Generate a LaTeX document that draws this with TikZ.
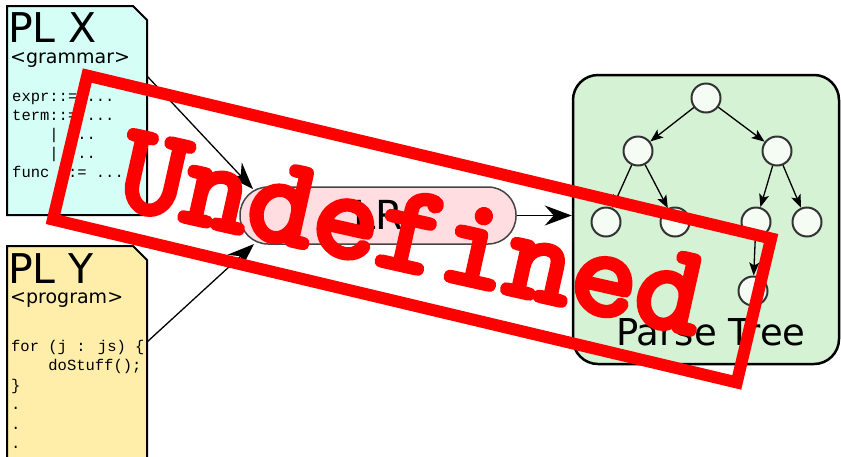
\documentclass[tikz,border=0pt]{standalone}
\usepackage{fontspec}
\setmainfont{DejaVu Sans}
\newfontfamily\codefont{Liberation Mono}
\newfontfamily\stampfont[FakeBold=4.5]{lmmono10-regular.otf}
\usetikzlibrary{arrows.meta}
\definecolor{docCyan}{RGB}{213,255,246}
\definecolor{docYellow}{RGB}{255,238,170}
\definecolor{lrPink}{RGB}{255,221,225}
\definecolor{lrGray}{RGB}{68,68,68}
\definecolor{treeGreen}{RGB}{213,242,213}
\definecolor{leafFill}{RGB}{244,252,244}
\definecolor{leafLine}{RGB}{51,51,51}
\definecolor{stampRed}{RGB}{255,0,0}
\begin{document}
\begin{tikzpicture}[x=1pt,y=-1pt,
  docshape/.style={draw=black,line width=2pt,line join=miter},
  titletext/.style={anchor=base west,inner sep=0pt,font=\fontsize{41}{41}\selectfont},
  subtext/.style={anchor=base west,inner sep=0pt,font=\fontsize{19}{19}\selectfont},
  codetext/.style={anchor=base west,inner sep=0pt,font=\codefont\fontsize{15.5}{15.5}\selectfont},
  bigarrow/.style={draw=black,line width=1.3pt,-{Stealth[length=27pt,width=20pt,inset=9pt]}},
  treearrow/.style={draw=black,line width=1.3pt,-{Stealth[length=13pt,width=10pt,inset=3pt]}},
  leaf/.style={circle,draw=leafLine,line width=2pt,fill=leafFill,minimum size=29pt,inner sep=0pt},
]
\useasboundingbox (0,0) rectangle (841,456);

% PL X document
\path[docshape,fill=docCyan] (7,6) -- (133,6) -- (147,20) -- (147,215) -- (7,215) -- cycle;
\node[titletext] (plx) at (8,42) {PL X};
\node[subtext] (gram) at (10,63) {<grammar>};
\node[codetext] (g1) at (12,101) {expr::= ...};
\node[codetext] (g2) at (12,120) {term::= ...};
\node[codetext] (g3) at (12,139) {\hphantom{term}| ...};
\node[codetext] (g4) at (12,158) {\hphantom{term}| ...};
\node[codetext] (g5) at (12,177) {func ::= ...};
\coordinate (plxout) at (147,76);

% PL Y document
\path[docshape,fill=docYellow] (7,246) -- (133,246) -- (147,260) -- (147,462) -- (7,462) -- cycle;
\node[titletext] (ply) at (8,283) {PL Y};
\node[subtext] (prog) at (10,303) {<program>};
\node[codetext] (p1) at (11,351) {for (j : js) \{};
\node[codetext] (p2) at (11,370) {\hphantom{for }doStuff();};
\node[codetext] (p3) at (11,390) {\}};
\node[codetext] (p4) at (11,409) {.};
\node[codetext] (p5) at (11,429) {.};
\node[codetext] (p6) at (11,448) {.};
\coordinate (plyout) at (147,342);

% LR node
\node[draw=lrGray,fill=lrPink,line width=1.5pt,rounded corners=28pt,
      minimum width=276pt,minimum height=57pt,inner sep=0pt] (lr) at (378,215.5) {};
\node[anchor=base,inner sep=0pt,font=\fontsize{40}{40}\selectfont] (lrtext) at (378.5,229) {LR};
\coordinate (lrin1) at (253,189);
\coordinate (lrin2) at (254,244);

% Parse tree box
\node[draw=black,fill=treeGreen,line width=2.5pt,rounded corners=25pt,
      minimum width=266pt,minimum height=289pt,inner sep=0pt] (tree) at (706,219.5) {};
\node[leaf] (n0) at (706,98) {};
\node[leaf] (n1) at (638,151) {};
\node[leaf] (n2) at (777,151) {};
\node[leaf] (n3) at (606,222) {};
\node[leaf] (n4) at (675,222) {};
\node[leaf] (n5) at (756,222) {};
\node[leaf] (n6) at (807,222) {};
\node[leaf] (n7) at (753,291) {};
\node[anchor=base,inner sep=0pt,font=\fontsize{37}{37}\selectfont] (ptlabel) at (711,345) {Parse Tree};

\draw[treearrow] (n0) -- (n1);
\draw[treearrow] (n0) -- (n2);
\draw[treearrow] (n1) -- (n3);
\draw[treearrow] (n1) -- (n4);
\draw[treearrow] (n2) -- (n5);
\draw[treearrow] (n2) -- (n6);
\draw[treearrow] (n5) -- (n7);

% connectors
\draw[bigarrow] (plxout) -- (lrin1);
\draw[bigarrow] (plyout) -- (lrin2);
\draw[bigarrow] (lr.east) -- (lr.east -| tree.west);

% stamp
\node[draw=stampRed,line width=12pt,minimum width=703pt,minimum height=148pt,
      rotate=-13.4,inner sep=0pt] (stamp) at (412,229) {};
\node[text=stampRed,anchor=base,inner sep=0pt,rotate=-12.6,
      font=\stampfont\fontsize{126}{126}\selectfont] (undef) at (404,270) {Undefined};
\end{tikzpicture}
\end{document}
